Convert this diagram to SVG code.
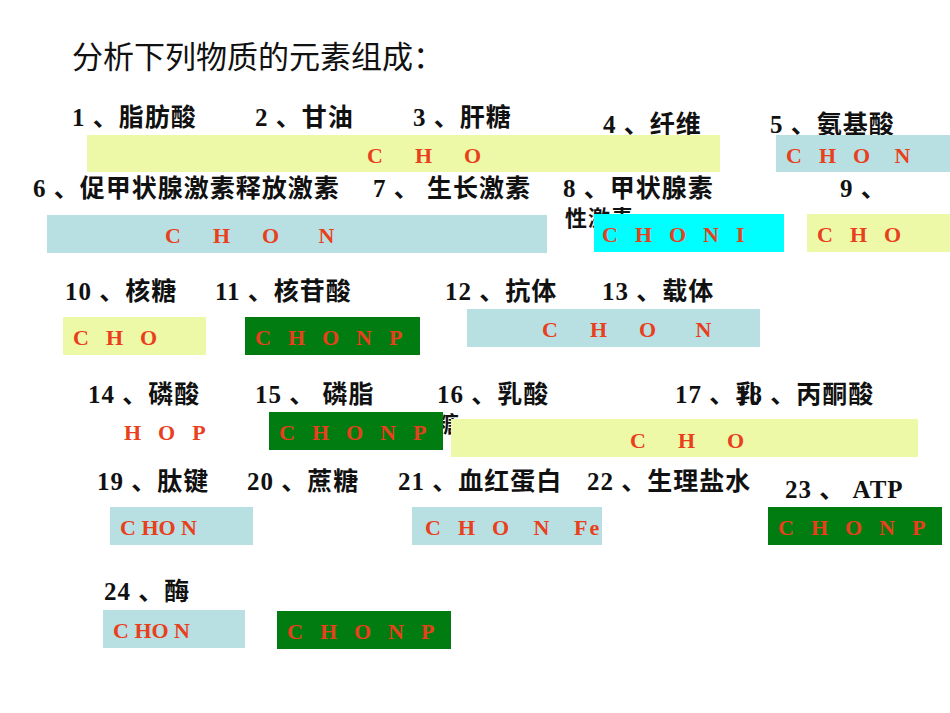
<svg xmlns="http://www.w3.org/2000/svg" width="950" height="713" viewBox="0 0 950 713">
<style>
.l{font-family:"Liberation Serif","Noto Sans CJK SC",serif;font-size:25px;font-weight:bold;fill:#111;letter-spacing:1px}
.e{font-family:"Liberation Serif",serif;font-size:22px;font-weight:bold;fill:#e8401c;letter-spacing:2px}
.y{fill:#eef9a8}.b{fill:#b8dfe2}.c{fill:#00ffff}.g{fill:#007c10}
</style>
<rect width="950" height="713" fill="#fff"/>
<text x="72" y="68" style="font-family:'Noto Sans CJK SC',sans-serif;font-size:31px;fill:#111">分析下列物质的元素组成：</text>
<g id="labels">
<text class="l" x="72" y="126">1 、脂肪酸</text>
<text class="l" x="255" y="126">2 、甘油</text>
<text class="l" x="413" y="126">3 、肝糖</text>
<text class="l" x="603" y="133">4 、纤维</text>
<text class="l" x="770" y="133">5 、氨基酸</text>
<text class="l" x="33" y="197">6 、促甲状腺激素释放激素</text>
<text class="l" x="373" y="197">7 、  生长激素</text>
<text class="l" x="563" y="197">8 、甲状腺素</text>
<text class="l" x="565" y="226" style="font-size:22px">性激素</text>
<text class="l" x="840" y="197">9 、</text>
<text class="l" x="65" y="300">10 、核糖</text>
<text class="l" x="215" y="300">11 、核苷酸</text>
<text class="l" x="445" y="300">12 、抗体</text>
<text class="l" x="602" y="300">13 、载体</text>
<text class="l" x="88" y="403">14 、磷酸</text>
<text class="l" x="255" y="403">15 、  磷脂</text>
<text class="l" x="437" y="403">16 、乳酸</text>
<text class="l" x="437" y="432" style="font-size:22px">糖</text>
<text class="l" x="675" y="403">17 、乳</text>
<text class="l" x="736" y="403">18 、丙酮酸</text>
<text class="l" x="97" y="490">19 、肽键</text>
<text class="l" x="247" y="490">20 、蔗糖</text>
<text class="l" x="398" y="490">21 、血红蛋白</text>
<text class="l" x="587" y="490">22 、生理盐水</text>
<text class="l" x="785" y="498">23 、 ATP</text>
<text class="l" x="104" y="600">24 、酶</text>
</g>
<g id="boxes">
<rect class="y" x="87" y="135" width="633" height="37"/><text class="e" x="367" y="163" xml:space="preserve">C    H    O</text>
<rect class="b" x="776" y="135" width="174" height="37"/><text class="e" x="786" y="163" xml:space="preserve">C  H  O   N</text>
<rect class="b" x="47" y="215" width="500" height="38"/><text class="e" x="165" y="243" xml:space="preserve">C    H    O     N</text>
<rect class="c" x="594" y="214" width="190" height="38"/><text class="e" x="602" y="242" xml:space="preserve">C  H  O  N  I</text>
<rect class="y" x="807" y="214" width="143" height="38"/><text class="e" x="817" y="242" xml:space="preserve">C  H  O</text>
<rect class="y" x="63" y="317" width="143" height="38"/><text class="e" x="73" y="345" xml:space="preserve">C  H  O</text>
<rect class="g" x="245" y="317" width="175" height="38"/><text class="e" x="255" y="345" xml:space="preserve">C  H  O  N  P</text>
<rect class="b" x="467" y="309" width="293" height="38"/><text class="e" x="542" y="337" xml:space="preserve">C    H    O     N</text>
<text class="e" x="124" y="440" xml:space="preserve">H  O  P</text>
<rect class="g" x="269" y="412" width="174" height="38"/><text class="e" x="279" y="440" xml:space="preserve">C  H  O  N  P</text>
<rect class="y" x="451" y="419" width="467" height="38"/><text class="e" x="630" y="448" xml:space="preserve">C    H    O</text>
<rect class="b" x="110" y="507" width="143" height="38"/><text class="e" x="120" y="535" style="letter-spacing:0">C HO N</text>
<rect class="b" x="412" y="507" width="190" height="38"/><text class="e" x="425" y="535" xml:space="preserve">C  H  O   N   Fe</text>
<rect class="g" x="768" y="507" width="174" height="38"/><text class="e" x="778" y="535" xml:space="preserve">C  H  O  N  P</text>
<rect class="b" x="103" y="610" width="142" height="38"/><text class="e" x="113" y="638" style="letter-spacing:0">C HO N</text>
<rect class="g" x="277" y="611" width="174" height="38"/><text class="e" x="287" y="639" xml:space="preserve">C  H  O  N  P</text>
</g>
</svg>
